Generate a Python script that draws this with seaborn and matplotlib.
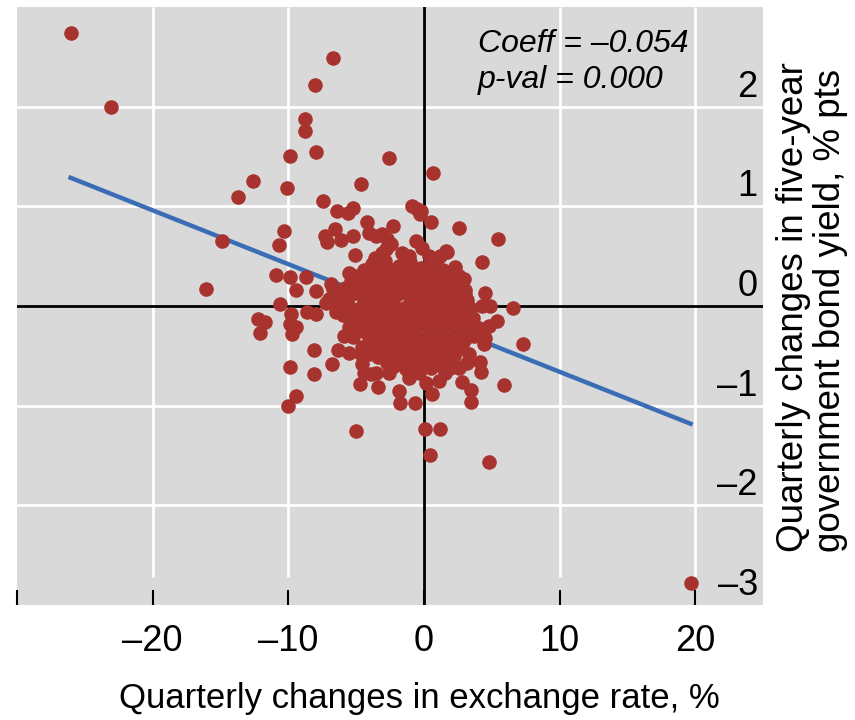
import matplotlib
matplotlib.use("Agg")
import matplotlib.pyplot as plt
import matplotlib.transforms as mtransforms
import seaborn as sns
import pandas as pd
import numpy as np

# ---------------- data ----------------
outer_x = [-26.05, -23.1, -6.7, -8.0, -8.78, -8.73, -7.95, -9.85, -2.6, -4.65,
           -12.6, -13.7, -10.1, -7.43, -6.4, -5.6, -5.26, -0.86, -0.49, -0.3,
           -4.18, -2.27, -10.35, -10.7, -14.85, -7.26, -7.17, -6.55, -6.1, -5.26,
           -4.04, -3.5, -3.06, -2.7, -2.45, -2.8, -3.1, -3.6, -5.1, -1.6,
           -1.1, -0.6, -0.12, 0.37, 0.86, 1.22, 1.66, -16.1, -10.9, -9.9,
           -8.7, -9.4, -7.95, -6.85, -6.7, -5.5, -5.4, -7.0, -6.36, -10.6,
           -12.2, -11.7, -12.1, -9.8, -9.9, -9.4, -9.7, -8.6, -7.95, -7.25,
           -6.5, -8.07, -6.36, -6.8, -8.07, -9.9, -9.46, -10.0, -5.5, -5.87,
           -4.65, -4.04, -4.53, -4.4, -3.9, -3.55, -4.7, -3.35, -2.7, -2.57,
           -1.83, -1.76, -0.66, -1.1, -0.37, 0.12, 0.61, 1.1, 1.59, 1.96,
           2.81, 3.5, 3.47, 5.92, 4.23, 4.16, 4.4, 4.53, 7.34, 4.77,
           5.38, 4.89, 4.28, 6.6, 2.57, 3.18, 3.3, 2.81, 3.67, 4.04,
           2.93, 2.81, 2.45, 2.2, -5.01, 0.07, 1.22, 0.42, 4.77, 19.66,
           0.66, -0.24, 0.54, 2.57, 5.43, 1.71, 2.27, 4.28, 2.93, 4.48,
           -3.8]
outer_y = [2.74, 2.00, 2.49, 2.22, 1.88, 1.76, 1.55, 1.51, 1.48, 1.22,
           1.25, 1.09, 1.18, 1.05, 0.95, 0.93, 0.98, 1.00, 0.97, 0.92,
           0.84, 0.80, 0.75, 0.61, 0.65, 0.70, 0.64, 0.77, 0.66, 0.70,
           0.73, 0.70, 0.72, 0.67, 0.62, 0.57, 0.53, 0.48, 0.51, 0.53,
           0.50, 0.65, 0.58, 0.50, 0.47, 0.50, 0.55, 0.17, 0.31, 0.29,
           0.29, 0.16, 0.15, 0.22, 0.17, 0.33, 0.25, 0.07, -0.03, 0.02,
           -0.13, -0.16, -0.27, -0.08, -0.18, -0.21, -0.28, -0.06, -0.08, 0.03,
           -0.06, -0.44, -0.44, -0.58, -0.68, -0.61, -0.90, -1.00, -0.47, -0.30,
           -0.48, -0.48, -0.58, -0.67, -0.68, -0.67, -0.78, -0.81, -0.57, -0.67,
           -0.85, -0.97, -0.97, -0.72, -0.67, -0.77, -0.88, -0.75, -0.67, -0.62,
           -0.76, -0.84, -0.96, -0.79, -0.66, -0.56, -0.38, -0.32, -0.38, -0.20,
           -0.15, 0.00, 0.00, -0.02, -0.62, -0.57, -0.48, -0.40, -0.30, -0.22,
           -0.15, 0.08, 0.17, 0.22, -1.25, -1.23, -1.23, -1.49, -1.57, -2.78,
           1.33, 0.95, 0.84, 0.78, 0.67, 0.54, 0.39, 0.44, 0.27, 0.13,
           0.39]

core_x = [-3.8, -2.9, -1.8, -1.0, -0.2, 0.6, 1.4,
          -5.0, -4.2, -3.3, -2.5, -1.6, -0.8, 0.1, 0.9, 1.7, 2.6,
          -5.8, -4.9, -4.0, -3.1, -2.2, -1.3, -0.5, 0.3, 1.1, 1.9, 3.0,
          -6.2, -5.3, -4.5, -3.6, -2.8, -1.9, -1.0, -0.2, 0.6, 1.4, 2.2, 3.2,
          -5.6, -4.7, -3.9, -3.0, -2.3, -1.5, -0.7, 0.2, 0.9, 1.7, 2.5, 3.4,
          -6.0, -5.1, -4.3, -3.5, -2.6, -1.8, -1.1, -0.3, 0.5, 1.2, 2.0, 2.8, 3.6,
          -5.5, -4.6, -3.8, -2.9, -2.1, -1.4, -0.6, 0.1, 0.8, 1.6, 2.4, 3.2,
          -5.2, -4.1, -3.3, -2.4, -1.6, -0.9, -0.1, 0.7, 1.4, 2.2, 3.0,
          -4.6, -3.7, -2.8, -2.0, -1.2, -0.4, 0.4, 1.1, 1.9, 2.5,
          -3.4, -2.5, -1.7, -0.8, 0.0, 0.8, 1.5, 2.2,
          -2.2, -1.3, -0.3, 0.5, 1.3,
          -2.0, -1.2, -0.5, 0.3, -1.7, -0.9, -2.7, 0.0, -3.2, 1.0,
          -0.4, -2.3, 0.6, -1.5, -3.5, 1.8, 2.7, -4.4, -0.2, 0.9,
          -4.4, -3.4, -2.4, -1.4, -0.6, 0.4, 1.2, 2.0,
          -5.0, -4.1, -3.2, -2.1, -1.2, -0.3, 0.7, 1.6, 2.6,
          -5.4, -4.5, -3.4, -2.5, -1.6, -0.8, 0.4, 1.3, 2.3, 3.0,
          -4.9, -4.0, -3.0, -2.0, -1.0, 0.0, 1.0, 1.9, 2.9,
          -4.2, -3.1, -2.2, -1.4, -0.5, 0.3, 1.2, 2.1,
          -3.0, -1.9, -1.0, 0.1, 1.0, 1.8,
          -4.8, -3.7, -1.9, 0.2, 1.5, -2.6, -0.9, 0.8]
core_y = [0.42, 0.45, 0.40, 0.44, 0.38, 0.41, 0.36,
          0.30, 0.33, 0.28, 0.32, 0.30, 0.27, 0.31, 0.29, 0.26, 0.30,
          0.18, 0.21, 0.19, 0.22, 0.17, 0.21, 0.18, 0.22, 0.17, 0.20, 0.16,
          0.08, 0.12, 0.09, 0.11, 0.07, 0.12, 0.09, 0.11, 0.08, 0.12, 0.09, 0.06,
          0.01, -0.02, 0.02, -0.01, 0.03, -0.02, 0.01, -0.03, 0.02, -0.01, 0.03, -0.02,
          -0.09, -0.12, -0.08, -0.11, -0.13, -0.08, -0.12, -0.09, -0.13, -0.08, -0.11, -0.09, -0.12,
          -0.21, -0.18, -0.22, -0.19, -0.23, -0.18, -0.21, -0.19, -0.23, -0.18, -0.22, -0.20,
          -0.31, -0.29, -0.33, -0.28, -0.32, -0.29, -0.33, -0.28, -0.31, -0.29, -0.33,
          -0.41, -0.38, -0.42, -0.39, -0.43, -0.38, -0.41, -0.44, -0.39, -0.43,
          -0.51, -0.48, -0.53, -0.49, -0.52, -0.47, -0.53, -0.50,
          -0.60, -0.63, -0.58, -0.62, -0.60,
          -0.05, 0.00, -0.15, -0.07, -0.25, -0.35, 0.12, 0.05, -0.25, -0.15,
          0.25, -0.35, -0.25, 0.15, 0.00, 0.05, -0.15, -0.25, -0.45, 0.20,
          0.36, 0.37, 0.36, 0.35, 0.33, 0.34, 0.32, 0.34,
          0.24, 0.26, 0.24, 0.25, 0.24, 0.26, 0.23, 0.24, 0.22,
          0.13, 0.15, 0.15, 0.14, 0.16, 0.15, 0.14, 0.14, 0.13, 0.12,
          -0.05, -0.06, -0.04, -0.06, -0.05, -0.06, -0.05, -0.06, -0.05,
          -0.16, -0.15, -0.16, -0.14, -0.16, -0.15, -0.14, -0.16,
          -0.36, -0.35, -0.37, -0.35, -0.36, -0.34,
          -0.24, -0.46, -0.46, -0.46, -0.46, -0.56, -0.56, -0.55]

fx_change = outer_x + core_x
yield_change = outer_y + core_y

fit_coeff = -0.054
fit_intercept = -0.12
fit_label = "Coeff = \u20130.054\np-val = 0.000"

x_ticks = [-30, -20, -10, 0, 10, 20]
x_tick_labels = ["", "\u201320", "\u201310", "0", "10", "20"]
y_ticks = [2, 1, 0, -1, -2, -3]
y_tick_labels = ["2", "1", "0", "\u20131", "\u20132", "\u20133"]

# ---------------- style ----------------
FONT = ["Liberation Sans", "DejaVu Sans"]
plt.rcParams["font.family"] = FONT
FS_TICK = 26
FS_XLAB = 25
FS_YLAB = 26.5
FS_NOTE = 23
RED = "#a8322d"
BLUE = "#3a6db5"
GREY = "#d9d9d9"

df = pd.DataFrame({"fx": fx_change, "yld": yield_change})
xs = np.array([min(fx_change), max(fx_change)])
fit_df = pd.DataFrame({"fx": xs, "yld": fit_intercept + fit_coeff * xs})

fig = plt.figure(figsize=(8.55, 7.2), dpi=100)
ax = fig.add_axes([17 / 855, 1 - 605 / 720, (763 - 17) / 855, (605 - 7) / 720])
ax.set_facecolor(GREY)
for s in ax.spines.values():
    s.set_visible(False)

ax.set_xlim(-30, 25)
ax.set_ylim(-3, 3)

# grid lines
for yv in [-2, -1, 1, 2]:
    ax.axhline(yv, color="white", lw=2, zorder=0.5)
for xv in [-20, -10, 10, 20]:
    ax.vlines(xv, -2.72, 3, color="white", lw=2, zorder=0.5)
ax.axhline(0, color="black", lw=2, zorder=1)
ax.axvline(0, color="black", lw=2, zorder=1)

sns.lineplot(data=fit_df, x="fx", y="yld", ax=ax, color=BLUE, lw=3.2, zorder=2)
sns.scatterplot(data=df, x="fx", y="yld", ax=ax, color=RED, s=110,
                linewidth=0, alpha=1, zorder=3)

ax.set_xticks(x_ticks)
ax.set_xticklabels(x_tick_labels, fontsize=FS_TICK)
ax.tick_params(axis="x", direction="in", length=11, width=1.5, color="black",
               pad=14)
ax.set_yticks([])
ax.set_xlabel("Quarterly changes in exchange rate, %", fontsize=FS_XLAB,
              labelpad=16)
ax.xaxis.label.set_x((419 - 17) / 746)
ax.set_ylabel("")

blend = mtransforms.blended_transform_factory(ax.transAxes, ax.transData)
off = mtransforms.offset_copy(blend, fig=fig, x=0, y=10, units="dots")
for v, lab in zip(y_ticks, y_tick_labels):
    ax.text(0.993, v, lab, transform=off, ha="right", va="baseline",
            fontsize=FS_TICK, zorder=4)

ax.text(4.0, 2.78, fit_label, fontsize=FS_NOTE, style="italic", ha="left",
        va="top", linespacing=1.25, zorder=4)

fig.text(812 / 855, 1 - 552 / 720,
         "Quarterly changes in five-year\ngovernment bond yield, % pts",
         rotation=90, ha="center", va="bottom", multialignment="left",
         fontsize=FS_YLAB, linespacing=1.1)

fig.savefig("out.png", dpi=100)
